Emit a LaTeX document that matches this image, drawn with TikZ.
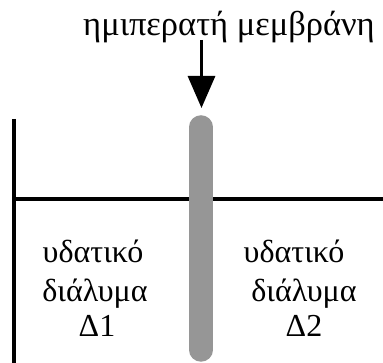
\documentclass[tikz,border=0pt]{standalone}
\usepackage{fontspec}
\setmainfont{Liberation Serif}
\usetikzlibrary{arrows.meta}
\definecolor{membr}{RGB}{150,150,150}
\begin{document}
\begin{tikzpicture}[x=1pt,y=1pt,
  lbl/.style={font=\fontsize{32}{36}\selectfont, inner sep=0pt, anchor=base},
  ttl/.style={font=\fontsize{34.5}{38}\selectfont, inner sep=0pt, anchor=base},
  wall/.style={line width=4pt},
  ]
\useasboundingbox (0,0) rectangle (383,363);
% title and arrow
\node[ttl] (title) at (229,327) {ημιπερατή μεμβράνη};
\coordinate (astart) at (201.5,323);
\coordinate (atip) at (201.5,255);
\draw[line width=3pt,-{Triangle[length=32pt,width=27pt]}] (astart) -- (atip);
% walls
\coordinate (wtop) at (14,244);
\coordinate (wbot) at (14,0);
\coordinate (hl) at (12,163.5);
\coordinate (hr) at (383,163.5);
\draw[wall] (wtop) -- (wbot);
\draw[wall] (hl) -- (hr);
% membrane
\coordinate (mtop) at (201,236);
\coordinate (mbot) at (201,13);
\draw[membr, line width=23.5pt, line cap=round] (mtop) -- (mbot);
% labels
\node[lbl] (l1) at (93,100) {υδατικό};
\node[lbl] (l2) at (95,61) {διάλυμα};
\node[lbl] (l3) at (97,26) {Δ1};
\node[lbl] (r1) at (294,100) {υδατικό};
\node[lbl] (r2) at (304,61) {διάλυμα};
\node[lbl] (r3) at (304,26) {Δ2};
\end{tikzpicture}
\end{document}
